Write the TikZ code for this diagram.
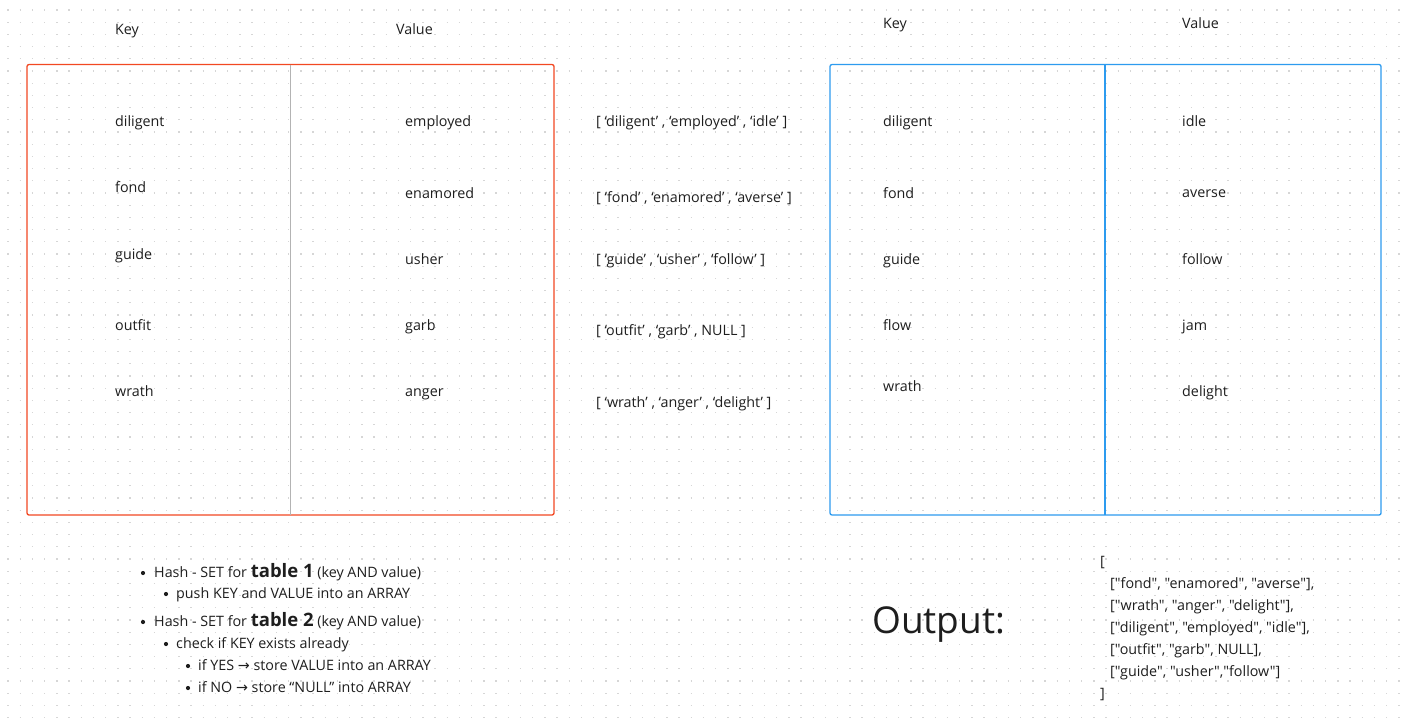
\documentclass[tikz,border=0pt]{standalone}
\usepackage{fontspec}
\newfontfamily\mainf{Open Sans}
\newfontfamily\symfont{DejaVu Sans}
\definecolor{ink}{HTML}{1E1E1E}
\definecolor{redbox}{HTML}{F24822}
\definecolor{bluebox}{HTML}{2D9BEF}
\definecolor{divgray}{HTML}{B3B3B3}
\definecolor{dotgray}{HTML}{D6D6D6}
\tikzset{
  txt/.style={anchor=base west, inner sep=0pt, text=ink, font=\mainf\fontsize{14.3}{16}\selectfont},
  tablebox/.style={line width=1.3pt, rounded corners=2pt},
  bul/.style={circle, fill=ink, inner sep=0pt, minimum size=4.2pt},
}
\newcommand{\arr}{{\symfont →}}
\begin{document}
\begin{tikzpicture}[x=1pt,y=-1pt]
\useasboundingbox (0,0) rectangle (1410,720);
\fill[white] (0,0) rectangle (1410,720);
% dot grid
\foreach \j in {0,...,58} {
  \draw[dotgray, line width=1.3pt, dash pattern=on 1.3pt off 10.9pt]
    (7.4,{10+12.2*\j}) -- (1410,{10+12.2*\j});
}
% table 1
\draw[tablebox, redbox] (27,64.5) rectangle (554,515);
\draw[divgray, line width=1pt] (290,64.5) -- (290,515);
\node[txt] (k1) at (115,34.3) {Key};
\node[txt] (v1) at (396,34.3) {Value};
\node[txt] (a1) at (115,126.7) {diligent};
\node[txt] (a2) at (115,192.7) {fond};
\node[txt] (a3) at (115,259.3) {guide};
\node[txt] (a4) at (115,330) {outfit};
\node[txt] (a5) at (115,396.7) {wrath};
\node[txt] (b1) at (405,126.7) {employed};
\node[txt] (b2) at (405,198) {enamored};
\node[txt] (b3) at (405,264) {usher};
\node[txt] (b4) at (405,330) {garb};
\node[txt] (b5) at (405,396.7) {anger};
% middle arrays
\node[txt] (m1) at (596,126.7) {[ ‘diligent’ , ‘employed’ , ‘idle’ ]};
\node[txt] (m2) at (596,202) {[ ‘fond’ , ‘enamored’ , ‘averse’ ]};
\node[txt] (m3) at (596,264) {[ ‘guide’ , ‘usher’ , ‘follow’ ]};
\node[txt] (m4) at (596,335) {[ ‘outfit’ , ‘garb’ , NULL ]};
\node[txt] (m5) at (596,407) {[ ‘wrath’ , ‘anger’ , ‘delight’ ]};
% table 2
\draw[tablebox, bluebox] (830,64.5) rectangle (1381,515);
\draw[bluebox, line width=1.3pt] (1105,64.5) -- (1105,515);
\node[txt] (k2) at (883,28.3) {Key};
\node[txt] (v2) at (1182,28.3) {Value};
\node[txt] (c1) at (883,126.7) {diligent};
\node[txt] (c2) at (883,198) {fond};
\node[txt] (c3) at (883,264) {guide};
\node[txt] (c4) at (883,330) {flow};
\node[txt] (c5) at (883,391) {wrath};
\node[txt] (d1) at (1182,126.7) {idle};
\node[txt] (d2) at (1182,197) {averse};
\node[txt] (d3) at (1182,264) {follow};
\node[txt] (d4) at (1182,330) {jam};
\node[txt] (d5) at (1182,396) {delight};
% bullet list
\node[bul] (p1) at (143,573) {};
\node[txt] (t1) at (154,577.5) {Hash - SET for {\fontsize{18.5}{20}\selectfont\bfseries table 1} (key AND value)};
\node[bul] (p2) at (166,594) {};
\node[txt] (t2) at (176,598.5) {push KEY and VALUE into an ARRAY};
\node[bul] (p3) at (143,622) {};
\node[txt] (t3) at (154,626.5) {Hash - SET for {\fontsize{18.5}{20}\selectfont\bfseries table 2} (key AND value)};
\node[bul] (p4) at (166,644) {};
\node[txt] (t4) at (176,648.5) {check if KEY exists already};
\node[bul] (p5) at (188,666) {};
\node[txt] (t5) at (198,670.5) {if YES \arr{} store VALUE into an ARRAY};
\node[bul] (p6) at (188,688) {};
\node[txt] (t6) at (198,692.5) {if NO \arr{} store “NULL” into ARRAY};
% output
\node[txt, font=\mainf\fontsize{37}{40}\selectfont] (out) at (872,633) {Output:};
\node[txt] (o0) at (1100,566) {[};
\node[txt] (o1) at (1110,588) {["fond", "enamored", "averse"],};
\node[txt] (o2) at (1110,610) {["wrath", "anger", "delight"],};
\node[txt] (o3) at (1110,632) {["diligent", "employed", "idle"],};
\node[txt] (o4) at (1110,654) {["outfit", "garb", NULL],};
\node[txt] (o5) at (1110,676) {["guide", "usher","follow"]};
\node[txt] (o6) at (1100,698) {]};
\end{tikzpicture}
\end{document}
